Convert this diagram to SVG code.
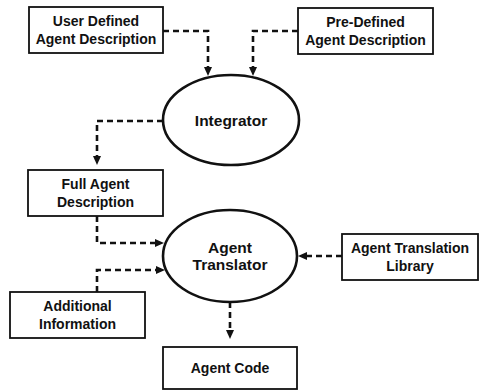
<svg xmlns="http://www.w3.org/2000/svg" width="480" height="391" viewBox="0 0 480 391">
<defs>
<style>
.box{fill:#fff;stroke:#111;stroke-width:1.8}
.ell{fill:#fff;stroke:#111;stroke-width:2.6}
.t{font-family:"Liberation Sans",Arial,sans-serif;font-weight:bold;font-size:14px;fill:#111;text-anchor:middle}
.te{font-family:"Liberation Sans",Arial,sans-serif;font-weight:bold;font-size:15.5px;fill:#111;text-anchor:middle}
.c{fill:none;stroke:#111;stroke-width:2.6;stroke-dasharray:6 4;marker-end:url(#ah)}
</style>
<marker id="ah" markerUnits="userSpaceOnUse" markerWidth="9" markerHeight="8" refX="2" refY="4" orient="auto">
<path d="M0,0 L9,4 L0,8 z" fill="#111"/>
</marker>
</defs>
<rect width="480" height="391" fill="#fff"/>
<g id="user-defined">
<rect class="box" x="29" y="7" width="134" height="46"/>
<text class="t" x="96" y="26">User Defined</text>
<text class="t" x="96" y="44">Agent Description</text>
</g>
<g id="pre-defined">
<rect class="box" x="298" y="8" width="135" height="46"/>
<text class="t" x="365.5" y="27">Pre-Defined</text>
<text class="t" x="365.5" y="45">Agent Description</text>
</g>
<g id="integrator">
<ellipse class="ell" cx="231" cy="120" rx="68" ry="45"/>
<text class="te" x="231" y="126">Integrator</text>
</g>
<g id="full-agent">
<rect class="box" x="28" y="170" width="135" height="46"/>
<text class="t" x="95.5" y="189">Full Agent</text>
<text class="t" x="95.5" y="207">Description</text>
</g>
<g id="agent-translator">
<ellipse class="ell" cx="230" cy="256" rx="67" ry="46"/>
<text class="te" x="230" y="253">Agent</text>
<text class="te" x="230" y="270">Translator</text>
</g>
<g id="translation-library">
<rect class="box" x="342" y="234" width="136" height="46"/>
<text class="t" x="410" y="253">Agent Translation</text>
<text class="t" x="410" y="271">Library</text>
</g>
<g id="additional-info">
<rect class="box" x="10" y="292" width="135" height="46"/>
<text class="t" x="77.5" y="311">Additional</text>
<text class="t" x="77.5" y="329">Information</text>
</g>
<g id="agent-code">
<rect class="box" x="163" y="347" width="134" height="42"/>
<text class="t" x="230" y="373">Agent Code</text>
</g>
<g id="connectors">
<path class="c" d="M163,31 H208 V69"/>
<path class="c" d="M298,31 H253 V69"/>
<path class="c" d="M163,121 H97 V158"/>
<path class="c" d="M97,216 V243 H157"/>
<path class="c" d="M342,256 H305"/>
<path class="c" d="M97,292 V270 H158"/>
<path class="c" d="M230,302 V332"/>
</g>
</svg>
